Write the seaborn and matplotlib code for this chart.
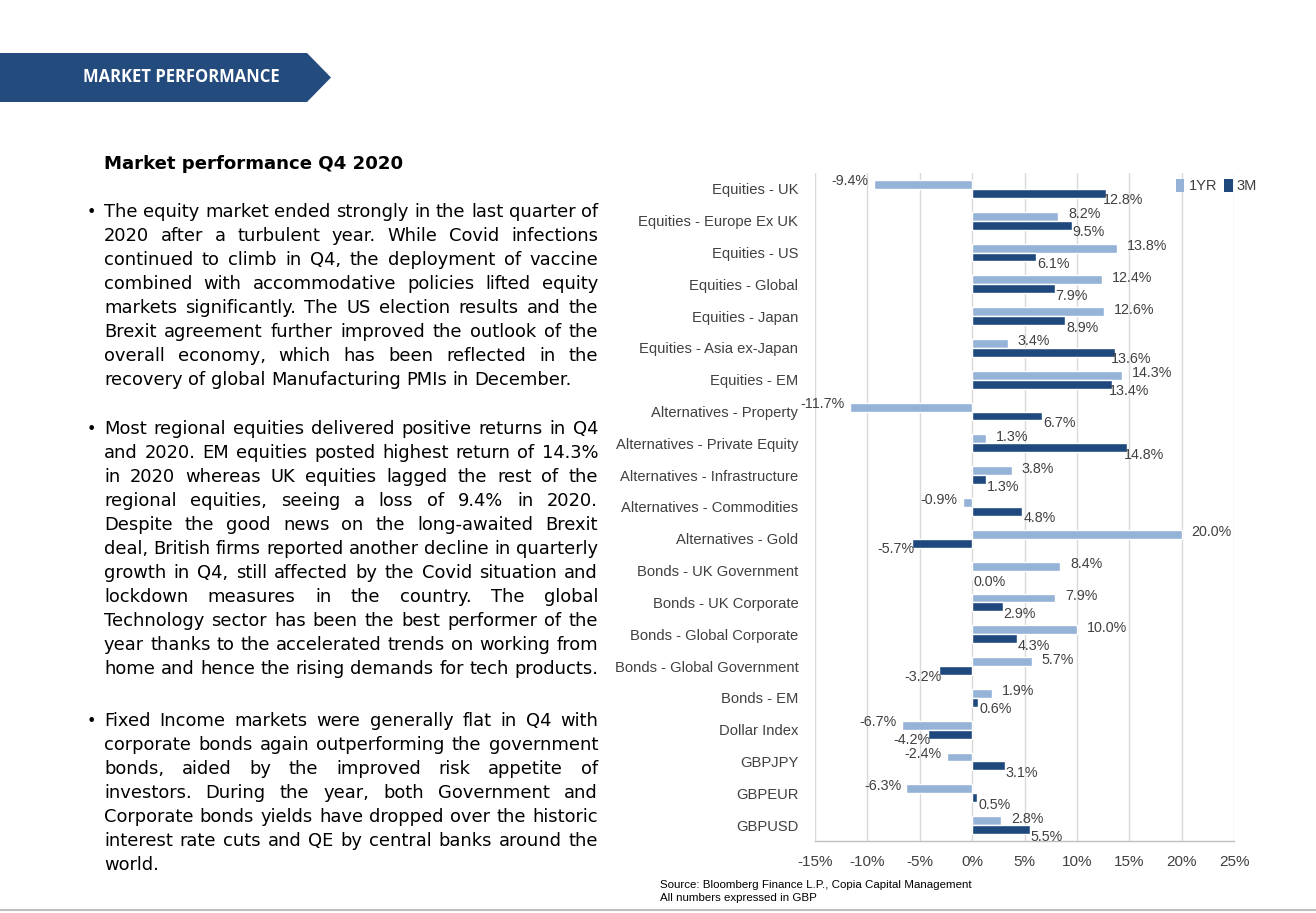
import matplotlib
matplotlib.use("Agg")
import matplotlib.pyplot as plt
import seaborn as sns
import pandas as pd
from matplotlib.patches import Polygon, Patch
from matplotlib.lines import Line2D

# ---------------- data ----------------
categories = [
    "Equities - UK", "Equities - Europe Ex UK", "Equities - US", "Equities - Global",
    "Equities - Japan", "Equities - Asia ex-Japan", "Equities - EM",
    "Alternatives - Property", "Alternatives - Private Equity",
    "Alternatives - Infrastructure", "Alternatives - Commodities", "Alternatives - Gold",
    "Bonds - UK Government", "Bonds - UK Corporate", "Bonds - Global Corporate",
    "Bonds - Global Government", "Bonds - EM", "Dollar Index", "GBPJPY", "GBPEUR", "GBPUSD",
]
yr1 = [-9.4, 8.2, 13.8, 12.4, 12.6, 3.4, 14.3, -11.7, 1.3, 3.8, -0.9, 20.0,
       8.4, 7.9, 10.0, 5.7, 1.9, -6.7, -2.4, -6.3, 2.8]
m3 = [12.8, 9.5, 6.1, 7.9, 8.9, 13.6, 13.4, 6.7, 14.8, 1.3, 4.8, -5.7,
      0.0, 2.9, 4.3, -3.2, 0.6, -4.2, 3.1, 0.5, 5.5]
series_names = ["1YR", "3M"]
x_ticks = [-15, -10, -5, 0, 5, 10, 15, 20, 25]

banner_text = "MARKET PERFORMANCE"
heading_text = "Market performance Q4 2020"
paragraphs = [
    ["The equity market ended strongly in the last quarter of",
     "2020  after a turbulent year. While Covid infections",
     "continued to climb in Q4, the deployment of vaccine",
     "combined with accommodative policies lifted equity",
     "markets significantly. The US election results and the",
     "Brexit agreement further improved the outlook of the",
     "overall economy, which has been reflected in the",
     "recovery of global Manufacturing PMIs in December."],
    ["Most regional equities delivered positive returns in Q4",
     "and 2020. EM equities posted highest return of 14.3%",
     "in 2020 whereas UK equities lagged the rest of the",
     "regional equities, seeing a loss of 9.4% in 2020.",
     "Despite the good news on the long-awaited Brexit",
     "deal, British firms reported another decline in quarterly",
     "growth in Q4, still affected by the Covid situation and",
     "lockdown measures in the country. The global",
     "Technology sector has been the best performer of the",
     "year thanks to the accelerated trends on working from",
     "home and hence the rising demands for tech products."],
    ["Fixed Income markets were generally flat in Q4 with",
     "corporate bonds again outperforming the government",
     "bonds, aided by the improved risk appetite of",
     "investors. During the year, both Government and",
     "Corporate bonds yields have dropped over the historic",
     "interest rate cuts and QE by central banks around the",
     "world."],
]
source_lines = ["Source: Bloomberg Finance L.P., Copia Capital Management",
                "All numbers expressed in GBP"]

# ---------------- style ----------------
LIGHT = "#95B3D7"
DARK = "#1F497D"
BANNER = "#234B7D"
GRID = "#D9D9D9"
TXT = "#404040"
CHART_FONT = ["Liberation Sans", "DejaVu Sans"]
BODY_FONT = ["DejaVu Sans"]

W, H = 1316, 913
sns.set_theme(style="white")
plt.rcParams["font.family"] = ["DejaVu Sans"]

fig = plt.figure(figsize=(W / 100, H / 100), dpi=100)
fig.patch.set_facecolor("white")
renderer = fig.canvas.get_renderer()


def fx(px):
    return px / W


def fy(py):
    return 1 - py / H


def measure(s, size, family, weight="normal"):
    t = fig.text(0, 0, s, fontsize=size, family=family, weight=weight)
    w = t.get_window_extent(renderer).width
    t.remove()
    return w


def fit_size(s, family, weight, target, base):
    w = measure(s, base, family, weight)
    return base * target / w


# ---------------- banner ----------------
fig.add_artist(Polygon([(fx(0), fy(53)), (fx(307), fy(53)), (fx(331), fy(77.5)),
                        (fx(307), fy(102)), (fx(0), fy(102))],
                       closed=True, transform=fig.transFigure,
                       facecolor=BANNER, edgecolor="none"))
bs = fit_size(banner_text, ["Open Sans", "DejaVu Sans"], "bold", 196, 11)
fig.text(fx(83), fy(77.5), banner_text, color="white", fontsize=bs,
         family=["Open Sans", "DejaVu Sans"], weight="bold", ha="left", va="center")

# ---------------- heading ----------------
hs = fit_size(heading_text, BODY_FONT, "bold", 299, 13)
fig.text(fx(104), fy(164), heading_text, fontsize=hs, family=BODY_FONT,
         weight="bold", ha="left", va="center", color="black")

# ---------------- justified body text ----------------
LEFT, RIGHT = 104, 598
target = RIGHT - LEFT
base = 13.0
all_lines = [ln for p in paragraphs for ln in p]
space_w = measure("x x", base, BODY_FONT) - measure("xx", base, BODY_FONT)
max_nat = max(sum(measure(w, base, BODY_FONT) for w in ln.split()) +
              space_w * (len(ln.split()) - 1) for ln in all_lines)
body_size = base * min(1.0, target / max_nat)
space_w = measure("x x", body_size, BODY_FONT) - measure("xx", body_size, BODY_FONT)

para_tops = [212, 429, 721]
LINE_H = 24
for p, ytop in zip(paragraphs, para_tops):
    fig.text(fx(87), fy(ytop), "\u2022", fontsize=body_size * 0.9, family=BODY_FONT,
             ha="left", va="center", color="black")
    for i, ln in enumerate(p):
        y = ytop + i * LINE_H
        words = ln.split()
        widths = [measure(w, body_size, BODY_FONT) for w in words]
        last = (i == len(p) - 1)
        if last or len(words) == 1:
            gap = space_w
        else:
            gap = (target - sum(widths)) / (len(words) - 1)
        x = LEFT
        for w, wd in zip(words, widths):
            fig.text(fx(x), fy(y), w, fontsize=body_size, family=BODY_FONT,
                     ha="left", va="center", color="black")
            x += wd + gap

# ---------------- chart ----------------
n = len(categories)
df = pd.DataFrame({
    "category": categories * 2,
    "value": yr1 + m3,
    "series": [series_names[0]] * n + [series_names[1]] * n,
})

cat_size = 10.6
lab_size = 10.3
tick_size = 11

ax = fig.add_axes([fx(815), fy(841), fx(1234) - fx(815), fy(173) - fy(841)])
sns.barplot(data=df, x="value", y="category", hue="series", hue_order=series_names,
            order=categories, palette=[LIGHT, DARK], orient="h", width=0.56,
            errorbar=None, saturation=1, legend=False, ax=ax)

ax.set_xlim(x_ticks[0], x_ticks[-1])
ax.set_xticks(x_ticks)
ax.set_xticklabels([f"{t}%" for t in x_ticks])
ax.set_xlabel("")
ax.set_ylabel("")
ax.xaxis.grid(True, color=GRID, lw=1)
ax.yaxis.grid(False)
ax.set_axisbelow(True)
ax.set_facecolor("white")
for s in ["top", "right", "left"]:
    ax.spines[s].set_visible(False)
ax.spines["bottom"].set_color("#BFBFBF")
ax.spines["bottom"].set_linewidth(1)
ax.tick_params(axis="both", length=0)
ax.tick_params(axis="y", pad=12)
ax.tick_params(axis="x", pad=10)
for lab in ax.get_yticklabels():
    lab.set_fontfamily(CHART_FONT)
    lab.set_fontsize(cat_size)
    lab.set_color(TXT)
for lab in ax.get_xticklabels():
    lab.set_fontfamily(CHART_FONT)
    lab.set_fontsize(tick_size)
    lab.set_color(TXT)

# data labels
for cont, vals, name in zip(ax.containers, [yr1, m3], series_names):
    for bar, v in zip(cont, vals):
        yc = bar.get_y() + bar.get_height() / 2
        if name == "1YR":
            if v >= 0:
                off, ha = (10, 2), "left"
            else:
                off, ha = (-5, 3), "right"
        else:
            if v >= 0:
                off, ha = (17, -7), "center"
            else:
                off, ha = (-16, -6), "center"
        ax.annotate(f"{v:.1f}%", xy=(v, yc), xytext=off, textcoords="offset pixels",
                    ha=ha, va="center", fontsize=lab_size, family=CHART_FONT, color=TXT,
                    annotation_clip=False)

# legend
handles = [Patch(facecolor=LIGHT, edgecolor="none"), Patch(facecolor=DARK, edgecolor="none")]
fig.legend(handles, series_names, loc="center left", bbox_to_anchor=(fx(1169), fy(186)),
           ncol=2, frameon=False, handlelength=0.55, handleheight=1.0, handletextpad=0.3,
           columnspacing=0.5, borderpad=0, prop={"family": CHART_FONT, "size": 10.5},
           labelcolor=TXT)

# source
src_size = fit_size(source_lines[0], CHART_FONT, "normal", 312, 8)
for i, s in enumerate(source_lines):
    fig.text(fx(660), fy(885 + i * 13), s, fontsize=src_size, family=CHART_FONT,
             ha="left", va="center", color="black")

# bottom line
fig.add_artist(Line2D([0, 1], [fy(910), fy(910)], transform=fig.transFigure,
                      color="#BFBFBF", lw=1.5))

fig.savefig("out.png", dpi=100, facecolor="white")
